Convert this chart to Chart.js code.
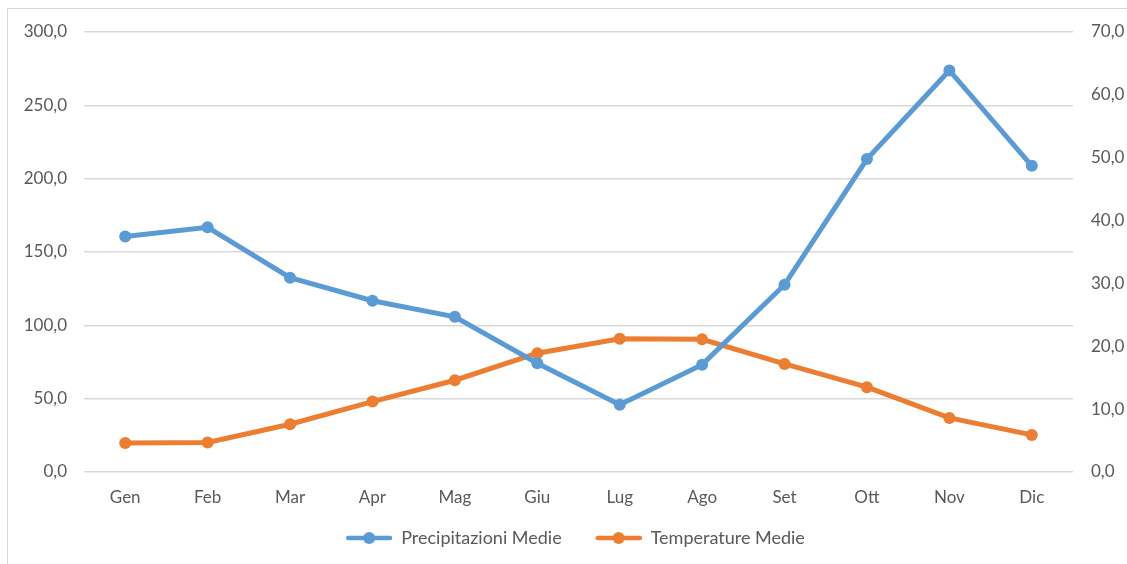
<!DOCTYPE html>
<html>
<head>
<meta charset="utf-8">
<script src="https://cdn.jsdelivr.net/npm/chart.js@4/dist/chart.umd.min.js"></script>
<style>
  html, body { margin: 0; padding: 0; background: #fff; }
  #wrap { position: relative; width: 1127px; height: 564px; }
  #frame { position: absolute; left: 7px; top: 8px; right: 0; bottom: 0; border-top: 1px solid #d9d9d9; border-left: 1px solid #d9d9d9; pointer-events: none; }
  canvas { position: absolute; left: 0; top: 0; }
</style>
</head>
<body>
<div id="wrap">
  <canvas id="c" width="1127" height="564"></canvas>
  <div id="frame"></div>
</div>
<script>
const categories = ["Gen", "Feb", "Mar", "Apr", "Mag", "Giu", "Lug", "Ago", "Set", "Ott", "Nov", "Dic"];
const precipitazioni = [160.6, 166.8, 132.5, 116.8, 105.8, 74.2, 45.8, 73.2, 127.7, 213.4, 273.8, 208.8];
const temperature = [4.6, 4.7, 7.6, 11.2, 14.6, 18.9, 21.2, 21.1, 17.2, 13.5, 8.6, 5.9];
const seriesNames = ["Precipitazioni Medie", "Temperature Medie"];
const leftTicks = { min: 0, max: 300, step: 50 };
const rightTicks = { min: 0, max: 70, step: 10 };

const BLUE = "#5B9BD5", ORANGE = "#ED7D31", TXT = "#595959", GRID = "#d9d9d9";
const FONT = "Lato";

function marker(color) {
  const c = document.createElement("canvas");
  c.width = 70; c.height = 14;
  const g = c.getContext("2d");
  g.strokeStyle = color; g.lineWidth = 4.5; g.lineCap = "round";
  g.beginPath(); g.moveTo(26, 7); g.lineTo(68, 7); g.stroke();
  g.fillStyle = color; g.beginPath(); g.arc(47, 7, 6, 0, Math.PI * 2); g.fill();
  return c;
}
const markers = [marker(BLUE), marker(ORANGE)];
const fmt = v => v.toFixed(1).replace(".", ",");

new Chart(document.getElementById("c"), {
  type: "line",
  data: {
    labels: categories,
    datasets: [
      { label: seriesNames[0], data: precipitazioni, yAxisID: "y", borderColor: BLUE, backgroundColor: BLUE,
        borderWidth: 5, pointRadius: 6, pointBackgroundColor: BLUE, pointBorderWidth: 0, tension: 0 },
      { label: seriesNames[1], data: temperature, yAxisID: "y1", borderColor: ORANGE, backgroundColor: ORANGE,
        borderWidth: 5, pointRadius: 6, pointBackgroundColor: ORANGE, pointBorderWidth: 0, tension: 0 }
    ]
  },
  options: {
    responsive: false,
    animation: false,
    layout: { padding: { top: 32, bottom: 7, left: 0, right: 0 } },
    plugins: {
      tooltip: { enabled: false },
      legend: {
        position: "bottom",
        labels: {
          font: { family: FONT, size: 18 },
          color: TXT,
          usePointStyle: true,
          pointStyleWidth: 70,
          boxHeight: 14,
          padding: 10,
          generateLabels: chart => chart.data.datasets.map((ds, i) => ({
            text: ds.label, pointStyle: markers[i], fontColor: TXT, datasetIndex: i,
            lineWidth: 0, strokeStyle: "transparent", fillStyle: "transparent", hidden: false
          }))
        }
      }
    },
    scales: {
      x: {
        offset: true,
        grid: { display: false, drawTicks: false },
        border: { display: false },
        ticks: { font: { family: FONT, size: 17 }, color: TXT, padding: 15, maxRotation: 0 },
        afterFit: s => { s.height = 47; }
      },
      y: {
        position: "left",
        min: leftTicks.min, max: leftTicks.max,
        grid: { color: GRID, lineWidth: 1.5, drawTicks: false },
        border: { display: false },
        ticks: { stepSize: leftTicks.step, font: { family: FONT, size: 17 }, color: TXT, padding: 17, callback: v => fmt(v) },
        afterFit: s => { s.width = 84; }
      },
      y1: {
        position: "right",
        min: rightTicks.min, max: rightTicks.max,
        grid: { display: false, drawTicks: false },
        border: { display: false },
        ticks: { stepSize: rightTicks.step, font: { family: FONT, size: 17 }, color: TXT, padding: 18, callback: v => fmt(v) },
        afterFit: s => { s.width = 54; }
      }
    }
  }
});
</script>
</body>
</html>
